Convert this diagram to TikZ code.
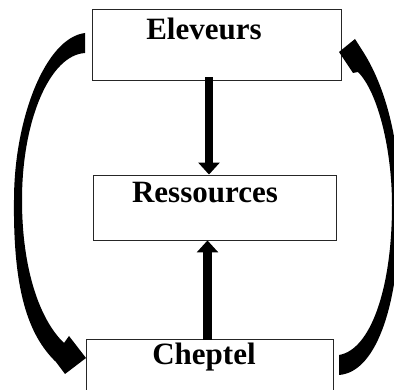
\documentclass[tikz,border=0pt]{standalone}
\usepackage{fontspec}
\setmainfont{Liberation Serif}
\usetikzlibrary{arrows.meta}
\tikzset{
  box/.style={draw=black!85, line width=0.9pt, fill=white, inner sep=0pt},
  lbl/.style={anchor=base, inner sep=0pt, font=\bfseries\fontsize{31}{31}\selectfont},
  vflow/.style={line width=8.5pt, -{Triangle[length=12pt,width=21pt]}, shorten <=0pt},
  bigarrow/.style={fill=black, draw=none}
}
\begin{document}
\begin{tikzpicture}[x=1pt,y=-1pt]
\useasboundingbox (0,0) rectangle (394,390);
\clip (0,0) rectangle (394,390);
% boxes
\node[box, minimum width=249pt, minimum height=71pt] (el) at (216.5,44.5) {};
\node[box, minimum width=243pt, minimum height=65pt] (re) at (214.5,207.5) {};
\node[box, minimum width=247pt, minimum height=71pt] (ch) at (209.5,374.5) {};
% labels
\node[lbl] (elt) at (204,40) {Eleveurs};
\node[lbl] (ret) at (205,203) {Ressources};
\node[lbl] (cht) at (204,365) {Cheptel};
% vertical arrows
\coordinate (a1s) at ([xshift=-7.5pt,yshift=3pt]el.south);
\coordinate (a1e) at (a1s |- re.north);
\draw[vflow] (a1s) -- (a1e);
\coordinate (a2s) at ([xshift=-2pt,yshift=-1pt]ch.north);
\coordinate (a2e) at (a2s |- re.south);
\draw[vflow] (a2s) -- (a2e);
% left curved arrow
\fill[bigarrow] (85,33) .. controls (45,38) and (14,120) .. (14,200)
  .. controls (13,290) and (28,335) .. (56,362)
  -- (65,374) -- (86,358) -- (69,336) -- (64,343)
  .. controls (40,320) and (22,270) .. (22,200)
  .. controls (22,120) and (50,55) .. (85,53) -- cycle;
% right curved arrow
\fill[bigarrow] (339,375) .. controls (378,372) and (400,300) .. (400,205)
  .. controls (400,140) and (385,85) .. (362,50)
  -- (355,39) -- (339,52) -- (353,73) -- (358,72)
  .. controls (378,92) and (392,150) .. (392,205)
  .. controls (392,290) and (370,350) .. (339,355) -- cycle;
\end{tikzpicture}
\end{document}
